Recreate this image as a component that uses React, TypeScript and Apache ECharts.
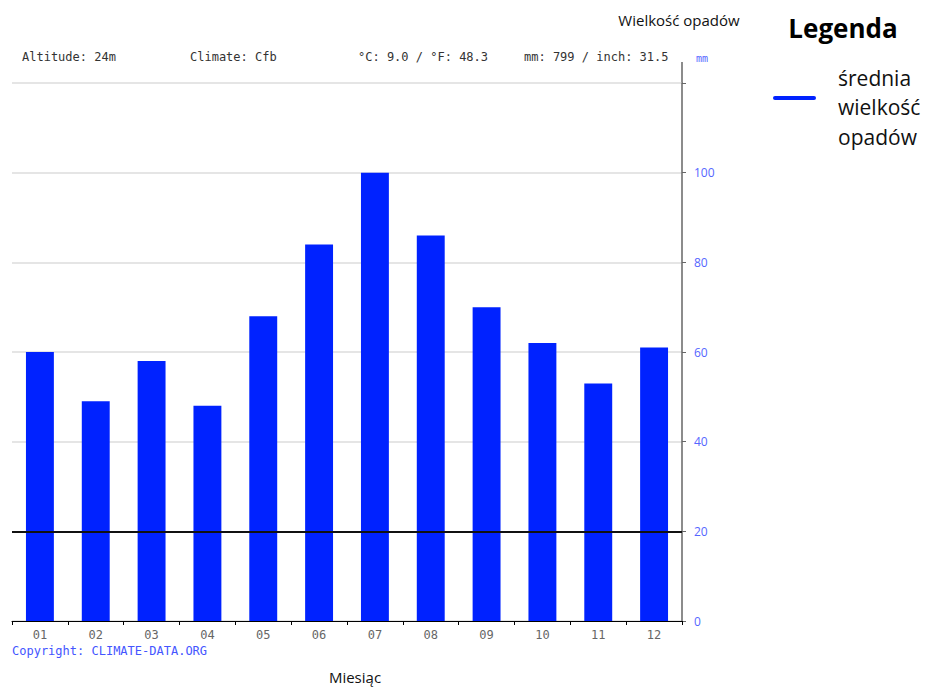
import React, { useEffect, useRef } from "react";
import * as echarts from "echarts";

const months = ["01", "02", "03", "04", "05", "06", "07", "08", "09", "10", "11", "12"];
const precipitation = [60, 49, 58, 48, 68, 84, 100, 86, 70, 62, 53, 61];
const headerTexts = ["Altitude: 24m", "Climate: Cfb", "°C: 9.0 / °F: 48.3", "mm: 799 / inch: 31.5"];
const referenceLine = 20;

const MONO = "'DejaVu Sans Mono', monospace";
const SANS = "'Open Sans', 'Noto Sans', sans-serif";
const BLUE = "#0022ff";
const LABEL_BLUE = "#5566ff";

export default function App() {
  const ref = useRef<HTMLDivElement>(null);
  useEffect(() => {
    if (!ref.current) return;
    const chart = echarts.init(ref.current, undefined, { renderer: "svg" });
    const headerX = [22, 190, 358, 524];
    chart.setOption({
      animation: false,
      backgroundColor: "#ffffff",
      grid: { left: 12, right: 246, top: 83, bottom: 67, containLabel: false },
      xAxis: {
        type: "category",
        data: months,
        boundaryGap: true,
        axisLine: { show: true, lineStyle: { color: "#000", width: 1 } },
        axisTick: { show: true, length: 4, lineStyle: { color: "#000" } },
        axisLabel: { color: "#666", fontFamily: MONO, fontSize: 12, margin: 8 },
        splitLine: { show: false },
      },
      yAxis: {
        type: "value",
        position: "right",
        min: 0,
        max: 120,
        interval: 20,
        axisLine: { show: true, lineStyle: { color: "#666", width: 1.5 } },
        axisTick: { show: true, length: 4, lineStyle: { color: "#666" } },
        axisLabel: {
          color: LABEL_BLUE,
          fontFamily: SANS,
          fontSize: 12,
          margin: 12,
          formatter: (v: number) => (v >= 120 ? "" : String(v)),
        },
        splitLine: { show: true, lineStyle: { color: "#dddddd", width: 1.5 } },
      },
      series: [
        {
          type: "bar",
          name: "średnia wielkość opadów",
          data: precipitation,
          barWidth: "50%",
          itemStyle: { color: BLUE },
          markLine: {
            silent: true,
            symbol: "none",
            label: { show: false },
            lineStyle: { color: "#111", width: 2, type: "solid" },
            data: [{ yAxis: referenceLine }],
          },
        },
      ],
      graphic: [
        {
          type: "line",
          shape: { x1: 682, y1: 62, x2: 682, y2: 83 },
          style: { stroke: "#666", lineWidth: 1.5 },
        },
        ...headerTexts.map((t, i) => ({
          type: "text",
          x: headerX[i],
          y: 57,
          style: { text: t, fill: "#333", font: `12px ${MONO}`, textVerticalAlign: "middle" },
        })),
        {
          type: "text",
          x: 696,
          y: 58,
          style: { text: "mm", fill: LABEL_BLUE, font: `10px ${MONO}`, textVerticalAlign: "middle" },
        },
        {
          type: "text",
          x: 679,
          y: 20,
          style: { text: "Wielkość opadów", fill: "#111", font: `15px ${SANS}`, textAlign: "center", textVerticalAlign: "middle" },
        },
        {
          type: "text",
          x: 843,
          y: 28,
          style: { text: "Legenda", fill: "#000", font: `bold 26px ${SANS}`, textAlign: "center", textVerticalAlign: "middle" },
        },
        {
          type: "line",
          shape: { x1: 775, y1: 98, x2: 814, y2: 98 },
          style: { stroke: BLUE, lineWidth: 4, lineCap: "round" },
        },
        {
          type: "text",
          x: 838,
          y: 107,
          style: {
            text: "średnia\nwielkość\nopadów",
            fill: "#111",
            font: `21px ${SANS}`,
            lineHeight: 29.5,
            textVerticalAlign: "middle",
          },
        },
        {
          type: "text",
          x: 12,
          y: 651,
          style: { text: "Copyright: CLIMATE-DATA.ORG", fill: "#4455ff", font: `12px ${MONO}`, textVerticalAlign: "middle" },
        },
        {
          type: "text",
          x: 355,
          y: 677,
          style: { text: "Miesiąc", fill: "#111", font: `15px ${SANS}`, textAlign: "center", textVerticalAlign: "middle" },
        },
      ],
    });
    return () => chart.dispose();
  }, []);
  return (
    <div
      ref={ref}
      style={{ position: "fixed", left: 0, top: 0, width: 928, height: 688 }}
    />
  );
}
